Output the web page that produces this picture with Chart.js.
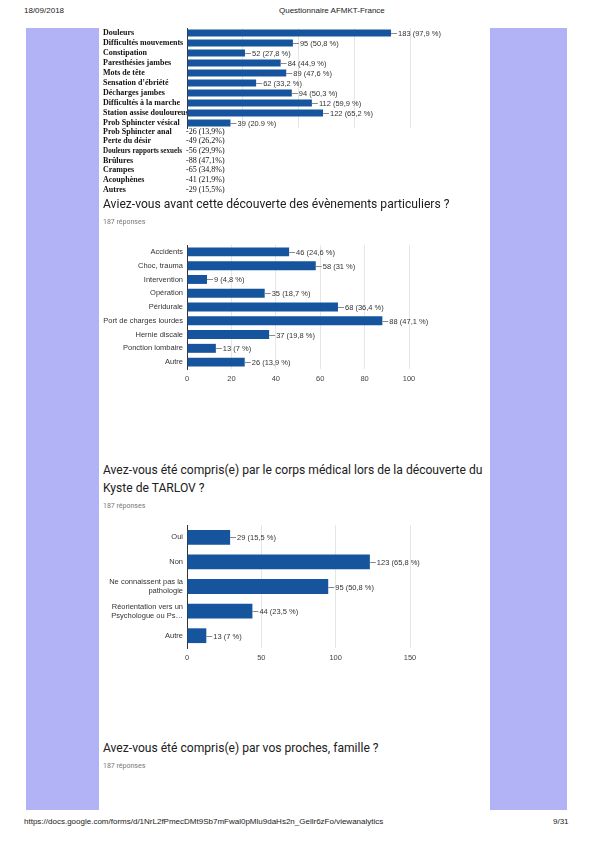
<!DOCTYPE html>
<html><head><meta charset="utf-8">
<script src="https://cdn.jsdelivr.net/npm/chart.js@4.4.0/dist/chart.umd.min.js"></script>
<style>
html,body{margin:0;padding:0;background:#fff;}
body{width:591px;height:842px;position:relative;overflow:hidden;font-family:"Liberation Sans",Arial,sans-serif;}
.abs{position:absolute;white-space:nowrap;}
.panel{position:absolute;background:#b2b2f6;}
.hdr{font-size:8px;color:#222;}
.title{font-family:Roboto,"Liberation Sans",sans-serif;font-size:12.1px;color:#202020;line-height:18px;}
.resp{font-family:Roboto,"Liberation Sans",sans-serif;font-size:7px;color:#777;}
.serif{font-family:"Liberation Serif","Times New Roman",serif;font-size:8px;color:#111;transform-origin:left center;}
canvas{position:absolute;}
</style>
</head><body>
<div class="panel" style="left:26px;top:28px;width:73px;height:782px;"></div>
<div class="panel" style="left:490px;top:28px;width:77px;height:782px;"></div>
<div class="abs hdr" style="left:24px;top:6px;">18/09/2018</div>
<div class="abs hdr" style="left:279px;top:6px;">Questionnaire AFMKT-France</div>

<canvas id="c1" width="389" height="106" style="left:101px;top:25px;"></canvas>
<div id="extra"></div>

<div class="abs title" style="left:103px;top:195px;">Aviez-vous avant cette découverte des évènements particuliers ?</div>
<div class="abs resp" style="left:103px;top:218px;">187 réponses</div>
<canvas id="c2" width="389" height="150" style="left:101px;top:240px;"></canvas>

<div class="abs title" style="left:103px;top:461px;">Avez-vous été compris(e) par le corps médical lors de la découverte du<br>Kyste de TARLOV ?</div>
<div class="abs resp" style="left:103px;top:502px;">187 réponses</div>
<canvas id="c3" width="389" height="150" style="left:101px;top:520px;"></canvas>

<div class="abs title" style="left:103px;top:739px;">Avez-vous été compris(e) par vos proches, famille ?</div>
<div class="abs resp" style="left:103px;top:762px;">187 réponses</div>

<div class="abs hdr" style="left:24px;top:817px;">https://docs.google.com/forms/d/1NrL2fPmecDMt9Sb7mFwal0pMlu9daHs2n_Gellr6zFo/viewanalytics</div>
<div class="abs hdr" style="left:553px;top:817px;">9/31</div>

<script>
// ---- Data ----
const symptomCats = ['Douleurs','Difficultés mouvements','Constipation','Paresthésies jambes','Mots de tête','Sensation d\u2019ébriété','Décharges jambes','Difficultés à la marche','Station assise douloureuse','Prob Sphincter vésical'];
const symptomVals = [183,95,52,84,89,62,94,112,122,39];
const symptomPcts = ['97,9','50,8','27,8','44,9','47,6','33,2','50,3','59,9','65,2','20.9'];
const symptomTicks = [0,50,100,150,200];

const extraCats = ['Prob Sphincter anal','Perte du désir','Douleurs rapports sexuels','Brûlures','Crampes','Acouphènes','Autres'];
const extraVals = [26,49,56,88,65,41,29];
const extraPcts = ['13,9','26,2','29,9','47,1','34,8','21,9','15,5'];

const eventCats = ['Accidents','Choc, trauma','Intervention','Opération','Péridurale','Port de charges lourdes','Hernie discale','Ponction lombaire','Autre'];
const eventVals = [46,58,9,35,68,88,37,13,26];
const eventPcts = ['24,6','31','4,8','18,7','36,4','47,1','19,8','7','13,9'];
const eventTicks = [0,20,40,60,80,100];

const medCats = ['Oui','Non',['Ne connaissent pas la','pathologie'],['Réorientation vers un','Psychologue ou Ps\u2026'],'Autre'];
const medVals = [29,123,95,44,13];
const medPcts = ['15,5','65,8','50,8','23,5','7'];
const medTicks = [0,50,100,150];

// ---- extra text rows (text only, no bars) ----
const ex = document.getElementById('extra');
extraCats.forEach((c,i)=>{
  const top = 126.5 + i*9.7;
  ex.insertAdjacentHTML('beforeend',
    `<div class="abs serif lab" style="left:103px;top:${top}px;font-weight:bold;">${c}</div>`+
    `<div class="abs serif" style="left:186px;top:${top}px;">-${extraVals[i]} (${extraPcts[i]}%)</div>`);
});
document.querySelectorAll('.lab').forEach(el=>{
  const w = el.offsetWidth;
  if (w > 79) el.style.transform = `scaleX(${79/w})`;
});

// ---- plugin: leader line + value label ----
const leaderLabels = {
  id:'leaderLabels',
  afterDatasetsDraw(chart, args, opts){
    const ctx = chart.ctx, meta = chart.getDatasetMeta(0);
    const vals = chart.data.datasets[0].data;
    ctx.save();
    ctx.font = opts.font;
    ctx.textBaseline = 'middle';
    meta.data.forEach((bar,i)=>{
      const x = bar.x, y = Math.round(bar.y)+0.5;
      ctx.strokeStyle = '#8a8a8a'; ctx.lineWidth = 1;
      ctx.beginPath(); ctx.moveTo(x, y); ctx.lineTo(x+opts.len, y); ctx.stroke();
      ctx.fillStyle = '#333';
      ctx.fillText(vals[i] + ' (' + opts.pcts[i] + ' %)', x+opts.len+1, y);
    });
    ctx.restore();
  }
};
Chart.register(leaderLabels);

const BLUE = '#16549e';
function makeChart(id, cats, vals, pcts, ticks, cfg){
  const max = ticks[ticks.length-1];
  return new Chart(document.getElementById(id), {
    type:'bar',
    data:{labels:cats, datasets:[{data:vals, backgroundColor:BLUE, borderWidth:0,
      categoryPercentage:1, barPercentage:cfg.barPct}]},
    options:{
      indexAxis:'y', responsive:false, animation:false,
      layout:{padding:cfg.padding},
      plugins:{legend:{display:false}, tooltip:{enabled:false},
        leaderLabels:{pcts:pcts, len:cfg.len, font:cfg.valFont}},
      scales:{
        x:{min:0,max:max,
          afterBuildTicks:(s)=>{s.ticks = ticks.map(v=>({value:v}));},
          grid:{color:'#e6e6e6', drawTicks:false},
          border:{display:false},
          ticks:{display:cfg.xTicks, padding:cfg.xPad, color:'#444', font:{family:'"Liberation Sans", Arial, sans-serif', size:7.5}},
          afterFit:(s)=>{s.height = cfg.xHeight; s.paddingLeft = 0; s.paddingRight = 0;}
        },
        y:{
          grid:{display:false, drawTicks:false},
          border:{display:true, color:'#333', width:1},
          ticks:{padding:cfg.yPad, color:cfg.yColor, crossAlign:cfg.crossAlign, font:cfg.yFont, autoSkip:false},
          afterFit:(s)=>{s.width = cfg.yWidth; s.paddingTop = 0; s.paddingBottom = 0;}
        }
      }
    }
  });
}

makeChart('c1', symptomCats, symptomVals, symptomPcts, symptomTicks, {
  barPct:0.7, padding:{left:2,right:80,top:3,bottom:3}, len:6,
  valFont:'7.5px "Liberation Sans", Arial, sans-serif',
  xTicks:false, xPad:0, xHeight:0, yPad:2, yColor:'#111', crossAlign:'far',
  yFont:{family:'"Liberation Serif", "Times New Roman", serif', size:8, weight:'bold'}, yWidth:84
});
makeChart('c2', eventCats, eventVals, eventPcts, eventTicks, {
  barPct:0.65, padding:{left:0,right:81,top:5,bottom:5}, len:6,
  valFont:'7.5px "Liberation Sans", Arial, sans-serif',
  xTicks:true, xPad:5, xHeight:16, yPad:4, yColor:'#333', crossAlign:'near',
  yFont:{family:'"Liberation Sans", Arial, sans-serif', size:7.5}, yWidth:86
});
makeChart('c3', medCats, medVals, medPcts, medTicks, {
  barPct:0.6, padding:{left:0,right:80,top:5,bottom:6}, len:6,
  valFont:'7.5px "Liberation Sans", Arial, sans-serif',
  xTicks:true, xPad:5, xHeight:16, yPad:4, yColor:'#333', crossAlign:'near',
  yFont:{family:'"Liberation Sans", Arial, sans-serif', size:7.5}, yWidth:86
});
</script>
</body></html>
